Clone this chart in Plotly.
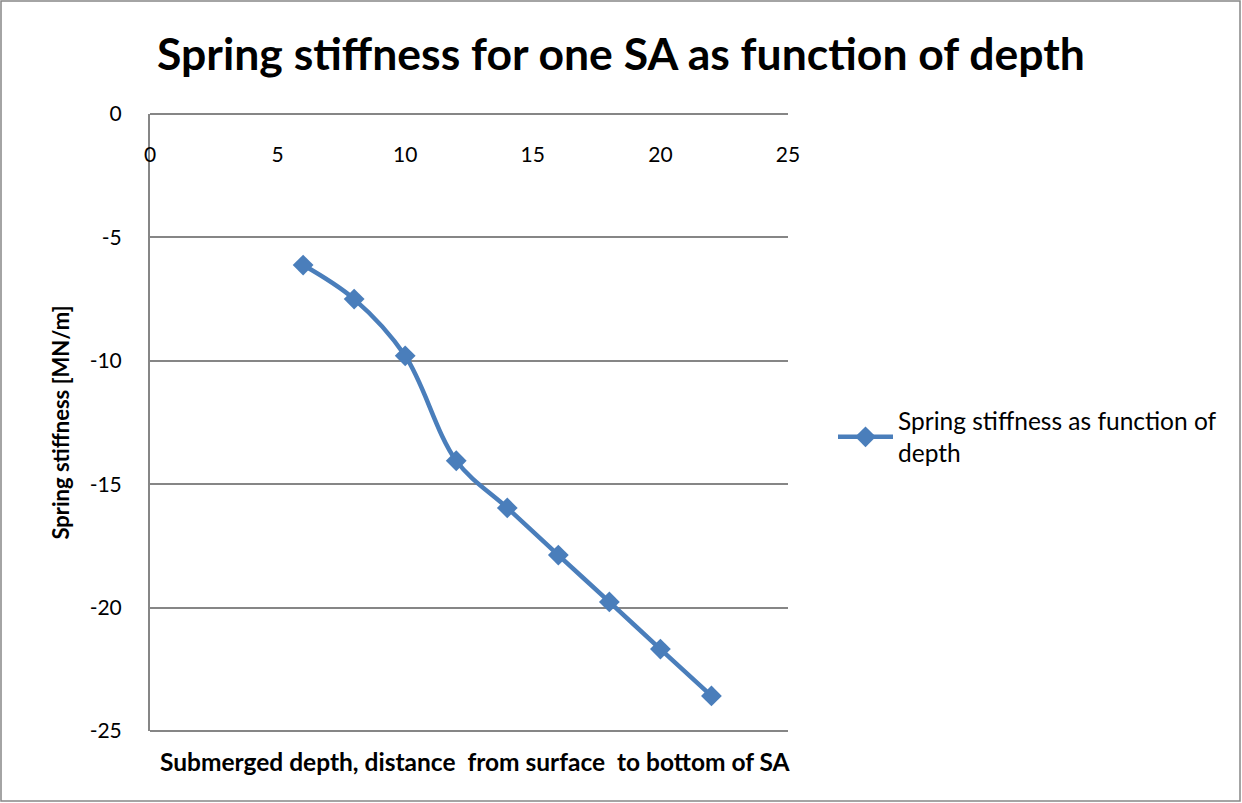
import plotly.graph_objects as go

depth = [6, 8, 10, 12, 14, 16, 18, 20, 22]
stiffness = [-6.12, -7.5, -9.8, -14.05, -15.96, -17.87, -19.77, -21.68, -23.58]
x_ticks = [0, 5, 10, 15, 20, 25]
x_labels = ["0", "5", "10", "15", "20", "25"]
y_ticks = [0, -5, -10, -15, -20, -25]
y_labels = ["0", "-5", "-10", "-15", "-20", "-25"]

FONT = "Lato"
BLUE = "#4A7EBB"
GRID = "#868686"

L, R, T, B = 150, 454, 114, 72
W, H = 1242, 803
PW, PH = W - L - R, H - T - B

fig = go.Figure()
fig.add_trace(go.Scatter(
    x=depth, y=stiffness, mode="lines+markers",
    name="Spring stiffness as function of<br>depth",
    line=dict(color=BLUE, width=4.5, shape="spline", smoothing=1.0),
    marker=dict(symbol="diamond", size=16, color=BLUE),
))

fig.update_layout(
    width=W, height=H,
    margin=dict(l=L, r=R, t=T, b=B, autoexpand=False),
    paper_bgcolor="white", plot_bgcolor="white",
    font=dict(family=FONT, color="black"),
    title=dict(text="<b>Spring stiffness for one SA as function of depth</b>",
               x=0.5, xanchor="center", y=1 - 54 / H, yanchor="middle",
               font=dict(size=44.5, family=FONT, color="black")),
    showlegend=True,
    legend=dict(x=(833 - L) / PW, y=(H - B - 437) / PH, xanchor="left", yanchor="middle",
                itemwidth=55, font=dict(size=24.5, family=FONT, color="black"),
                bgcolor="rgba(0,0,0,0)"),
    xaxis=dict(range=[0, 25], tickvals=x_ticks, ticktext=x_labels,
               anchor="free", position=1, side="bottom",
               showgrid=False, zeroline=False,
               showline=True, linecolor=GRID, linewidth=2,
               ticks="", ticklabelstandoff=22,
               tickfont=dict(size=21, family=FONT)),
    yaxis=dict(range=[-25, 0], tickvals=y_ticks, ticktext=y_labels, domain=[0, 1],
               showgrid=True, gridcolor=GRID, gridwidth=1.5, zeroline=False,
               showline=True, linecolor=GRID, linewidth=2,
               ticks="", ticklabelstandoff=22,
               tickfont=dict(size=21, family=FONT),
               title=dict(text="<b>Spring stiffness [MN/m]</b>",
                          font=dict(size=22, family=FONT), standoff=14)),
    shapes=[
        dict(type="line", xref="paper", yref="paper", x0=0, x1=1, y0=0, y1=0,
             line=dict(color=GRID, width=2)),
        dict(type="rect", xref="paper", yref="paper", x0=-(L - 1) / PW, x1=(W - 2 - L) / PW,
             y0=-(B - 2) / PH, y1=(H - B - 1) / PH, line=dict(color=GRID, width=1.5)),
    ],
    annotations=[
        dict(text="<b>Submerged depth, distance  from surface  to bottom of SA</b>",
             xref="paper", yref="paper", x=(475 - L) / PW, y=-(762 - (H - B)) / PH,
             xanchor="center", yanchor="middle", showarrow=False,
             font=dict(size=24.5, family=FONT, color="black")),
    ],
)

fig.write_html("out.html", config={"displayModeBar": False},
               post_script="document.body.style.margin='0';")
